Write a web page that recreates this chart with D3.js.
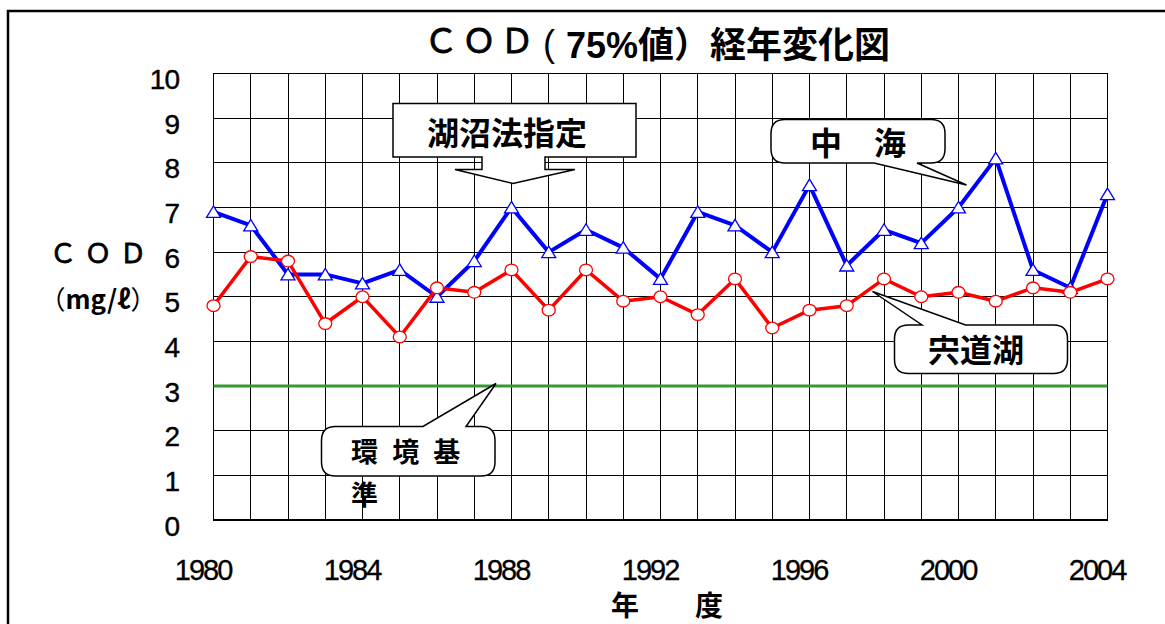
<!DOCTYPE html>
<html>
<head>
<meta charset="utf-8">
<script src="https://cdn.jsdelivr.net/npm/d3@7"></script>
<style>
  body { margin: 0; background: #fff; }
  svg { display: block; }
  .num { font-family: "Liberation Sans", Arial, sans-serif; }
  .jp { font-family: "Noto Sans CJK JP", sans-serif; }
</style>
</head>
<body>
<svg width="1165" height="624"></svg>
<script>
// data
var years = [1980, 1981, 1982, 1983, 1984, 1985, 1986, 1987, 1988, 1989, 1990, 1991, 1992,
             1993, 1994, 1995, 1996, 1997, 1998, 1999, 2000, 2001, 2002, 2003, 2004];
var nakaumi = [6.9, 6.6, 5.5, 5.5, 5.3, 5.6, 5.0, 5.8, 7.0, 6.0, 6.5, 6.1, 5.4,
               6.9, 6.6, 6.0, 7.5, 5.7, 6.5, 6.2, 7.0, 8.1, 5.6, 5.2, 7.3];
var shinjiko = [4.8, 5.9, 5.8, 4.4, 5.0, 4.1, 5.2, 5.1, 5.6, 4.7, 5.6, 4.9, 5.0,
                4.6, 5.4, 4.3, 4.7, 4.8, 5.4, 5.0, 5.1, 4.9, 5.2, 5.1, 5.4];
var standard = 3;
var xTicks = [1980, 1984, 1988, 1992, 1996, 2000, 2004];
var yTicks = [0, 1, 2, 3, 4, 5, 6, 7, 8, 9, 10];

var svg = d3.select("svg");

var x = d3.scaleLinear().domain([1980, 2004]).range([213.5, 1107.5]);
var y = d3.scaleLinear().domain([0, 10]).range([520, 73.5]);

// outer frame
svg.append("rect")
  .attr("x", 8).attr("y", 11)
  .attr("width", 1170).attr("height", 640)
  .attr("fill", "none").attr("stroke", "#000").attr("stroke-width", 2.5);

// grid
var grid = svg.append("g").attr("shape-rendering", "crispEdges");
grid.selectAll("line.h")
  .data(yTicks)
  .enter().append("line")
  .attr("class", "h")
  .attr("x1", x(1980)).attr("x2", x(2004))
  .attr("y1", function(d) { return y(d); })
  .attr("y2", function(d) { return y(d); })
  .attr("stroke", "#000").attr("stroke-width", 1);
grid.selectAll("line.v")
  .data(years)
  .enter().append("line")
  .attr("class", "v")
  .attr("y1", y(0)).attr("y2", y(10))
  .attr("x1", function(d) { return x(d); })
  .attr("x2", function(d) { return x(d); })
  .attr("stroke", "#000").attr("stroke-width", 1);
grid.append("rect")
  .attr("x", x(1980)).attr("y", y(10))
  .attr("width", x(2004) - x(1980)).attr("height", y(0) - y(10))
  .attr("fill", "none").attr("stroke", "#000").attr("stroke-width", 1.5);

// y axis labels
var yAxis = svg.append("g")
  .attr("transform", "translate(182,0)")
  .call(d3.axisLeft(y).tickValues(yTicks).tickSize(0).tickPadding(3));
yAxis.select(".domain").remove();
yAxis.selectAll("text")
  .attr("class", "num")
  .attr("dy", "15px")
  .attr("font-size", 28)
  .attr("letter-spacing", "-1px")
  .attr("stroke", "#000").attr("stroke-width", 0.4)
  .attr("fill", "#000");

// x axis labels
var xAxis = svg.append("g")
  .attr("transform", "translate(-11,580)")
  .call(d3.axisBottom(x).tickValues(xTicks).tickSize(0).tickFormat(d3.format("d")));
xAxis.select(".domain").remove();
xAxis.selectAll("text")
  .attr("class", "num")
  .attr("y", 0).attr("dy", 0)
  .attr("font-size", 29)
  .attr("letter-spacing", "-2px")
  .attr("stroke", "#000").attr("stroke-width", 0.3)
  .attr("fill", "#000");

// environmental standard
svg.append("line")
  .attr("x1", x(1980)).attr("x2", x(2004))
  .attr("y1", y(standard)).attr("y2", y(standard))
  .attr("stroke", "#339933").attr("stroke-width", 3);

var line = d3.line()
  .x(function(d, i) { return x(years[i]); })
  .y(function(d) { return y(d); });

// 中海 (blue)
svg.append("path")
  .datum(nakaumi)
  .attr("d", line)
  .attr("fill", "none").attr("stroke", "#0000ff").attr("stroke-width", 4)
  .attr("stroke-linejoin", "round");
svg.selectAll("path.tri")
  .data(nakaumi)
  .enter().append("path")
  .attr("class", "tri")
  .attr("d", "M0,-6L7,5.5H-7Z")
  .attr("transform", function(d, i) { return "translate(" + x(years[i]) + "," + y(d) + ")"; })
  .attr("fill", "#fff").attr("stroke", "#0000ff").attr("stroke-width", 1.3);

// 宍道湖 (red)
svg.append("path")
  .datum(shinjiko)
  .attr("d", line)
  .attr("fill", "none").attr("stroke", "#ff0000").attr("stroke-width", 3.5)
  .attr("stroke-linejoin", "round");
svg.selectAll("ellipse.dot")
  .data(shinjiko)
  .enter().append("ellipse")
  .attr("class", "dot")
  .attr("cx", function(d, i) { return x(years[i]); })
  .attr("cy", function(d) { return y(d); })
  .attr("rx", 6.5).attr("ry", 5.8)
  .attr("fill", "#fff").attr("stroke", "#ff0000").attr("stroke-width", 1.3);

// callouts
function roundCallout(x0, y0, x1, y1, r, side, b1, b2, tx, ty) {
  var p = d3.path();
  p.moveTo(x0 + r, y0);
  if (side === "top") { p.lineTo(b1, y0); p.lineTo(tx, ty); p.lineTo(b2, y0); }
  p.lineTo(x1 - r, y0);
  p.quadraticCurveTo(x1, y0, x1, y0 + r);
  p.lineTo(x1, y1 - r);
  p.quadraticCurveTo(x1, y1, x1 - r, y1);
  if (side === "bottom") { p.lineTo(b2, y1); p.lineTo(tx, ty); p.lineTo(b1, y1); }
  p.lineTo(x0 + r, y1);
  p.quadraticCurveTo(x0, y1, x0, y1 - r);
  p.lineTo(x0, y0 + r);
  p.quadraticCurveTo(x0, y0, x0 + r, y0);
  p.closePath();
  return p.toString();
}

var callouts = svg.append("g")
  .attr("fill", "#fff").attr("stroke", "#000").attr("stroke-width", 1.5);

// 湖沼法指定 box with down arrow
var a = d3.path();
a.moveTo(393, 103.5);
a.lineTo(636, 103.5);
a.lineTo(636, 157);
a.lineTo(545, 157);
a.lineTo(545, 169.5);
a.lineTo(575, 169.5);
a.lineTo(x(1988) + 1.5, 183.5);
a.lineTo(455, 169.5);
a.lineTo(482, 169.5);
a.lineTo(482, 157);
a.lineTo(393, 157);
a.closePath();
callouts.append("path").attr("d", a.toString());

callouts.append("path")
  .attr("d", roundCallout(771, 119.5, 945, 163, 14, "bottom", 874, 917, 966.5, 185));
callouts.append("path")
  .attr("d", roundCallout(894.5, 325, 1067.5, 373.5, 14, "top", 922, 965.5, 872.5, 291.5));
callouts.append("path")
  .attr("d", roundCallout(321.5, 426.5, 495, 476, 14, "top", 423, 466, 496, 383.5));

var labels = svg.append("g").attr("class", "jp").attr("font-weight", "bold").attr("fill", "#000");
labels.append("text").attr("x", 507).attr("y", 145).attr("font-size", 32)
  .attr("text-anchor", "middle").text("湖沼法指定");
labels.append("text").attr("x", 858).attr("y", 155).attr("font-size", 32)
  .attr("text-anchor", "middle").text("中　海");
labels.append("text").attr("x", 976).attr("y", 362).attr("font-size", 32)
  .attr("text-anchor", "middle").text("宍道湖");
labels.append("text").attr("x", 351).attr("y", 462).attr("font-size", 27)
  .attr("word-spacing", "8px").text("環 境 基");
labels.append("text").attr("x", 351).attr("y", 505).attr("font-size", 27)
  .text("準");

// axis titles
svg.append("text").attr("class", "jp")
  .attr("x", 102).attr("y", 263).attr("font-size", 27)
  .attr("stroke", "#000").attr("stroke-width", 0.8)
  .attr("letter-spacing", "8px").attr("text-anchor", "middle")
  .text("ＣＯＤ");
var unit = svg.append("text").attr("class", "jp")
  .attr("x", 98).attr("y", 309).attr("font-size", 26)
  .attr("text-anchor", "middle");
unit.append("tspan").text("（");
unit.append("tspan").attr("font-weight", "bold").text("mg/ℓ");
unit.append("tspan").text("）");
svg.append("text").attr("class", "jp")
  .attr("x", 667).attr("y", 616).attr("font-size", 28)
  .attr("font-weight", "bold").attr("text-anchor", "middle")
  .text("年　　度");

// title
var title = svg.append("text").attr("y", 58).attr("fill", "#000");
title.append("tspan").attr("class", "jp")
  .attr("x", 424).attr("dy", -5)
  .attr("font-size", 34).attr("letter-spacing", "4px")
  .attr("stroke", "#000").attr("stroke-width", 0.8)
  .text("ＣＯＤ");
title.append("tspan").attr("class", "num")
  .attr("x", 543).attr("dy", 3)
  .attr("font-size", 36)
  .text("(");
title.append("tspan").attr("class", "num")
  .attr("x", 566).attr("dy", 2)
  .attr("font-size", 36).attr("font-weight", "bold")
  .text("75%");
title.append("tspan").attr("class", "jp")
  .attr("x", 638)
  .attr("font-size", 36).attr("font-weight", "bold")
  .text("値）経年変化図");
</script>
</body>
</html>
